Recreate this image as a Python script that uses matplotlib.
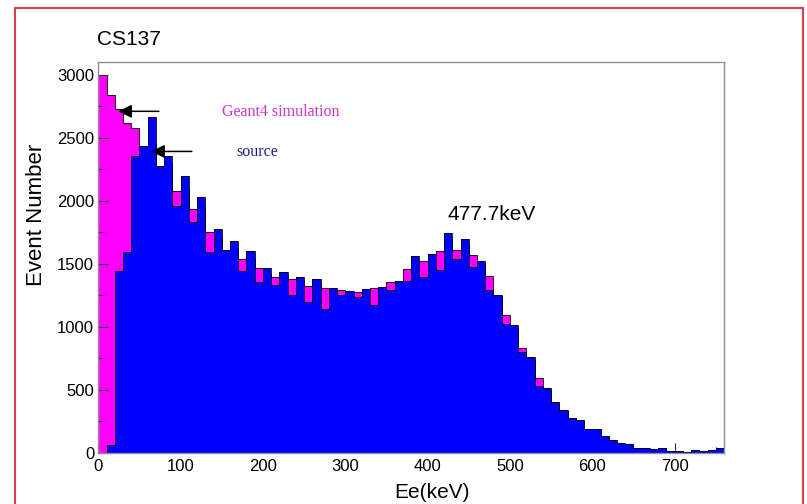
import matplotlib
matplotlib.use('Agg')
import matplotlib.pyplot as plt
from matplotlib.patches import Rectangle
from matplotlib.ticker import MultipleLocator
import numpy as np

plt.rcParams['font.family'] = ['Liberation Sans', 'DejaVu Sans']

# histogram 0-760 keV, 10 keV bins
e_min = 0
e_max = 760
bin_width = 10

# Geant4 simulation (magenta)
geant4 = [3000, 2841, 2730, 2616, 2577, 2400, 2450, 2250, 2300, 2074,
          2100, 1935, 1950, 1749, 1700, 1580, 1620, 1535, 1550, 1466,
          1420, 1399, 1400, 1380, 1370, 1322, 1340, 1305, 1290, 1291,
          1270, 1280, 1290, 1307, 1300, 1356, 1350, 1458, 1500, 1524,
          1560, 1605, 1700, 1609, 1660, 1571, 1500, 1402, 1240, 1095,
          990, 835, 740, 597, 500, 395, 335, 275, 255, 180,
          185, 125, 98, 72, 65, 34, 34, 28, 38, 14,
          14, 8, 22, 14, 22, 34]

# measured source (blue)
source = [0, 60, 1440, 1593, 2352, 2437, 2664, 2278, 2357, 1958,
          2193, 1828, 2032, 1595, 1772, 1611, 1677, 1446, 1605, 1352,
          1466, 1333, 1439, 1250, 1394, 1200, 1378, 1140, 1305, 1252,
          1286, 1235, 1299, 1175, 1320, 1290, 1366, 1365, 1558, 1399,
          1579, 1452, 1746, 1537, 1693, 1477, 1524, 1290, 1250, 1025,
          1016, 800, 758, 530, 515, 403, 344, 280, 264, 188,
          192, 132, 103, 77, 70, 37, 37, 31, 42, 16,
          16, 10, 24, 16, 24, 37]

edges = np.arange(e_min, e_max + bin_width, bin_width)

fig = plt.figure(figsize=(8.07, 5.04), dpi=100)
ax = fig.add_axes([98.3 / 807, 1 - 453 / 504, 625.7 / 807, 391 / 504])

ax.stairs(geant4, edges, fill=True, color='#ff00ff', zorder=1)
ax.stairs(geant4, edges, color='black', linewidth=0.6, zorder=1.1)
ax.stairs(source, edges, fill=True, color='#0000ff', zorder=2)
ax.stairs(source, edges, color='black', linewidth=0.6, zorder=2.1)

ax.set_xlim(e_min, e_max)
ax.set_ylim(0, 3100)

# ticks inside, drawn over the magenta but under the blue (like ROOT "same")
ax.xaxis.set_zorder(1.5)
ax.yaxis.set_zorder(1.5)
ax.xaxis.set_major_locator(MultipleLocator(100))
ax.xaxis.set_minor_locator(MultipleLocator(50))
ax.yaxis.set_major_locator(MultipleLocator(500))
ax.yaxis.set_minor_locator(MultipleLocator(250))
ax.tick_params(which='both', direction='in', colors='#303030', labelcolor='black',
               labelsize=12, width=0.8)
ax.tick_params(which='major', length=7, pad=3)
ax.tick_params(which='minor', length=4)
ax.tick_params(axis='x', pad=4)

for sp in ax.spines.values():
    sp.set_color('#909090')
    sp.set_linewidth(1)

# annotations
ax.text(150, 2706, 'Geant4 simulation', color='#d030c8', fontsize=11.5,
        family=['Liberation Serif', 'DejaVu Serif'], va='center')
ax.text(168, 2389, 'source', color='#1c1c80', fontsize=11.5,
        family=['Liberation Serif', 'DejaVu Serif'], va='center')
ax.annotate('', xy=(21, 2709), xytext=(77, 2709),
            arrowprops=dict(arrowstyle='-|>', color='black', lw=1.1, mutation_scale=20))
ax.annotate('', xy=(61, 2391), xytext=(117, 2391),
            arrowprops=dict(arrowstyle='-|>', color='black', lw=1.1, mutation_scale=20))
ax.text(424, 1889, '477.7keV', fontsize=15, va='center')

fig.text(97 / 807, 1 - 40 / 504, 'CS137', fontsize=15, va='center')
fig.text(432 / 807, 1 - 493 / 504, 'Ee(keV)', fontsize=15, ha='center', va='center')
fig.text(37 / 807, 1 - 215 / 504, 'Event Number', fontsize=16, rotation=90,
         ha='center', va='center')

# red frame round the picture
fig.patches.append(Rectangle((15 / 807, -0.02), 788 / 807, 1 - 8 / 504 + 0.02,
                             transform=fig.transFigure, fill=False,
                             edgecolor='#d8404c', linewidth=1.5))

fig.savefig('out.png', dpi=100)
